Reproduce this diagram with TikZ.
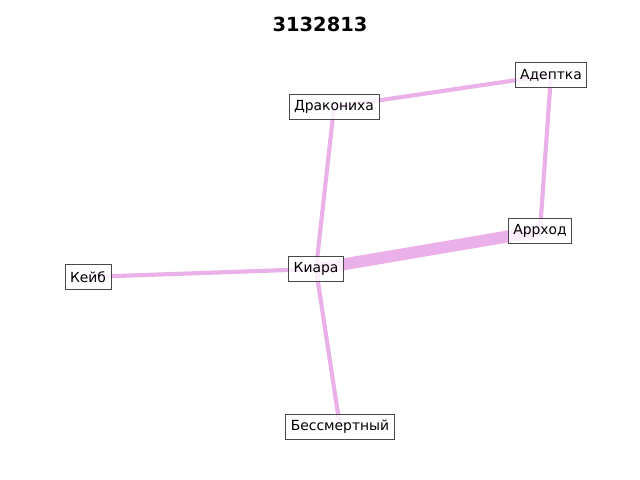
\documentclass[tikz,border=0pt]{standalone}
\usepackage{fontspec}
\setmainfont{DejaVu Sans}
\usepackage{tikz}
\usetikzlibrary{calc}
\pgfdeclarelayer{background}
\pgfsetlayers{background,main}
\definecolor{edgeviolet}{RGB}{234,176,234}
\definecolor{boxgray}{RGB}{72,72,72}
\tikzset{
   name node/.style={rectangle,draw=boxgray,line width=0.65pt,fill=white,fill opacity=0.8,draw opacity=1,text opacity=1,
                     font=\fontsize{10}{12}\selectfont,inner xsep=3.6pt,inner ysep=3pt,minimum height=18pt},
   link/.style={draw=edgeviolet,line width=3pt,line cap=butt},
   heavy link/.style={link,line width=8.6pt}
}

\begin{document}
\begin{tikzpicture}[x=0.72pt,y=-0.72pt]
\useasboundingbox (0,0) rectangle (640,480);
\node[font=\fontsize{14}{16}\selectfont\bfseries] (title) at (320,24) {3132813};
%
\node[name node] (adeptka) at (551,75)   {Адептка};
\node[name node] (drakon)  at (334,107)  {Дракониха};
\node[name node] (arrhod)  at (540,231)  {Аррход};
\node[name node] (kiara)   at (316,269)  {Киара};
\node[name node] (keib)    at (88,277)   {Кейб};
\node[name node] (bessm)   at (340,427)  {Бессмертный};
%
\begin{pgfonlayer}{background}
\path
  (drakon.center) edge[link] (adeptka.center)
  (adeptka.center) edge[link] (arrhod.center)
  (drakon.center) edge[link] (kiara.center)
  (kiara.center) edge[heavy link] (arrhod.center)
  (kiara.center) edge[link] (keib.center)
  (kiara.center) edge[link] (bessm.center)
  ;
\end{pgfonlayer}
\end{tikzpicture}
\end{document}
